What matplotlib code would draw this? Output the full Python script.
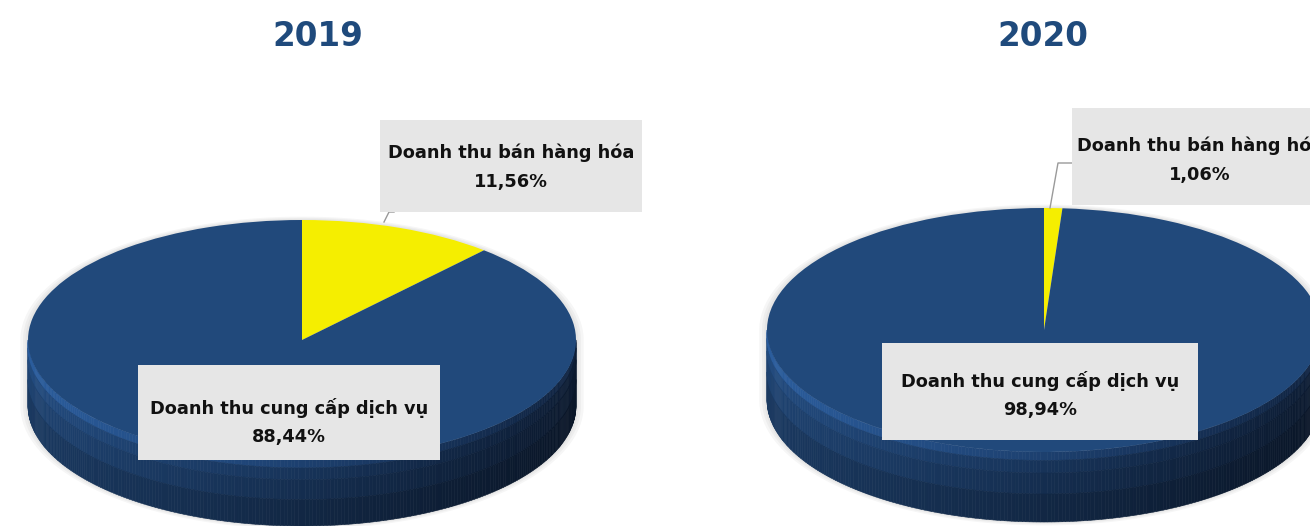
import numpy as np
import matplotlib.pyplot as plt
from matplotlib.collections import PolyCollection
from matplotlib.patches import Rectangle, Polygon
from matplotlib.lines import Line2D

# revenue structure by year (%)
years = ['2019', '2020']
categories = ['Doanh thu bán hàng hóa', 'Doanh thu cung cấp dịch vụ']
share_2019 = [11.56, 88.44]
share_2020 = [1.06, 98.94]

top_colors = ['#f5ee00', '#21497b']
side_left = {0: np.array([150, 145, 0]), 1: np.array([30, 66, 112])}
side_right = {0: np.array([90, 88, 0]), 1: np.array([11, 25, 46])}

W, H = 1310, 526
fig = plt.figure(figsize=(W / 100, H / 100), dpi=100)
fig.patch.set_facecolor('white')


def px(x, y):
    return x / W, 1 - y / H


def draw_pie(values, cx, cy, rx, ry, depth):
    ax = fig.add_axes([0, 0, 1, 1])
    ax.patch.set_alpha(0)
    fr = np.array(values) / sum(values)
    cum = np.concatenate([[0], np.cumsum(fr)]) * 360
    d = depth / ry

    # faint soft shadow around the disc
    tt = np.radians(np.linspace(0, 360, 361))
    for g in (1.028, 1.018, 1.009):
        gx = g * np.cos(tt)
        gy = g * np.sin(tt) - np.where(np.sin(tt) < 0, d, 0) * 1.0
        ax.add_patch(Polygon(np.c_[gx, gy], closed=True, facecolor='#808080',
                             edgecolor='none', alpha=0.07, zorder=0))

    # visible front side, strip by strip with shading
    polys, cols = [], []
    t = np.linspace(180, 360, 241)
    for t0, t1 in zip(t[:-1], t[1:]):
        mid = (t0 + t1) / 2
        a = (90 - mid) % 360
        k = min(np.searchsorted(cum, a, side='right') - 1, len(values) - 1)
        s = (np.cos(np.radians(mid)) + 1) / 2
        base = side_left[k] * (1 - s) + side_right[k] * s
        x0, x1 = np.cos(np.radians(t0)), np.cos(np.radians(t1))
        y0, y1 = np.sin(np.radians(t0)), np.sin(np.radians(t1))
        bands = [0, 0.12, 0.3, 0.6, 1.0]
        light = [1.4, 1.12, 1.0, 0.86]
        for (b0, b1), f in zip(zip(bands[:-1], bands[1:]), light):
            polys.append([(x0, y0 - b0 * d), (x1, y1 - b0 * d),
                          (x1, y1 - b1 * d), (x0, y0 - b1 * d)])
            cols.append(np.clip(base * f, 0, 255) / 255)
    ax.add_collection(PolyCollection(polys, facecolors=cols, edgecolors=cols,
                                     linewidths=0.4, zorder=1))

    ax.pie(values, colors=top_colors, startangle=90, counterclock=False,
           radius=1, wedgeprops=dict(linewidth=0, zorder=2))
    ax.set_aspect('auto')
    ax.set_xlim(-cx / rx, (W - cx) / rx)
    ax.set_ylim((cy - H) / ry, cy / ry)
    ax.axis('off')
    return ax


def label_box(x0, y0, x1, y1, name, val, ty):
    fig.patches.append(Rectangle(px(x0, y1), (x1 - x0) / W, (y1 - y0) / H,
                                 transform=fig.transFigure, facecolor='#e6e6e6',
                                 edgecolor='none', zorder=5))
    xc = (x0 + x1) / 2
    fig.text(*px(xc, ty), name, ha='center', va='center', fontsize=12.8,
             fontweight='bold', color='#111111', zorder=6)
    fig.text(*px(xc, ty + 29), f'{val:.2f}'.replace('.', ',') + '%',
             ha='center', va='center', fontsize=12.8, fontweight='bold',
             color='#111111', zorder=6)


def leader(points):
    xs = [p[0] / W for p in points]
    ys = [1 - p[1] / H for p in points]
    fig.lines.append(Line2D(xs, ys, transform=fig.transFigure,
                            color='#9a9a9a', linewidth=1, zorder=4))


draw_pie(share_2019, 302, 340, 274, 120, 66)
draw_pie(share_2020, 1044, 330, 277, 122, 70)

fig.text(*px(318, 36), years[0], ha='center', va='center', fontsize=23.5,
         fontweight='bold', color='#1f4a7c')
fig.text(*px(1043, 36), years[1], ha='center', va='center', fontsize=23.5,
         fontweight='bold', color='#1f4a7c')

label_box(380, 120, 642, 212, categories[0], share_2019[0], 153)
label_box(138, 365, 440, 460, categories[1], share_2019[1], 408)
leader([(394, 212), (389, 212), (384, 222)])

label_box(1072, 108, 1328, 205, categories[0], share_2020[0], 146)
label_box(882, 343, 1198, 440, categories[1], share_2020[1], 381)
leader([(1072, 163), (1058, 163), (1050, 208)])

plt.savefig('out.png', dpi=100)
